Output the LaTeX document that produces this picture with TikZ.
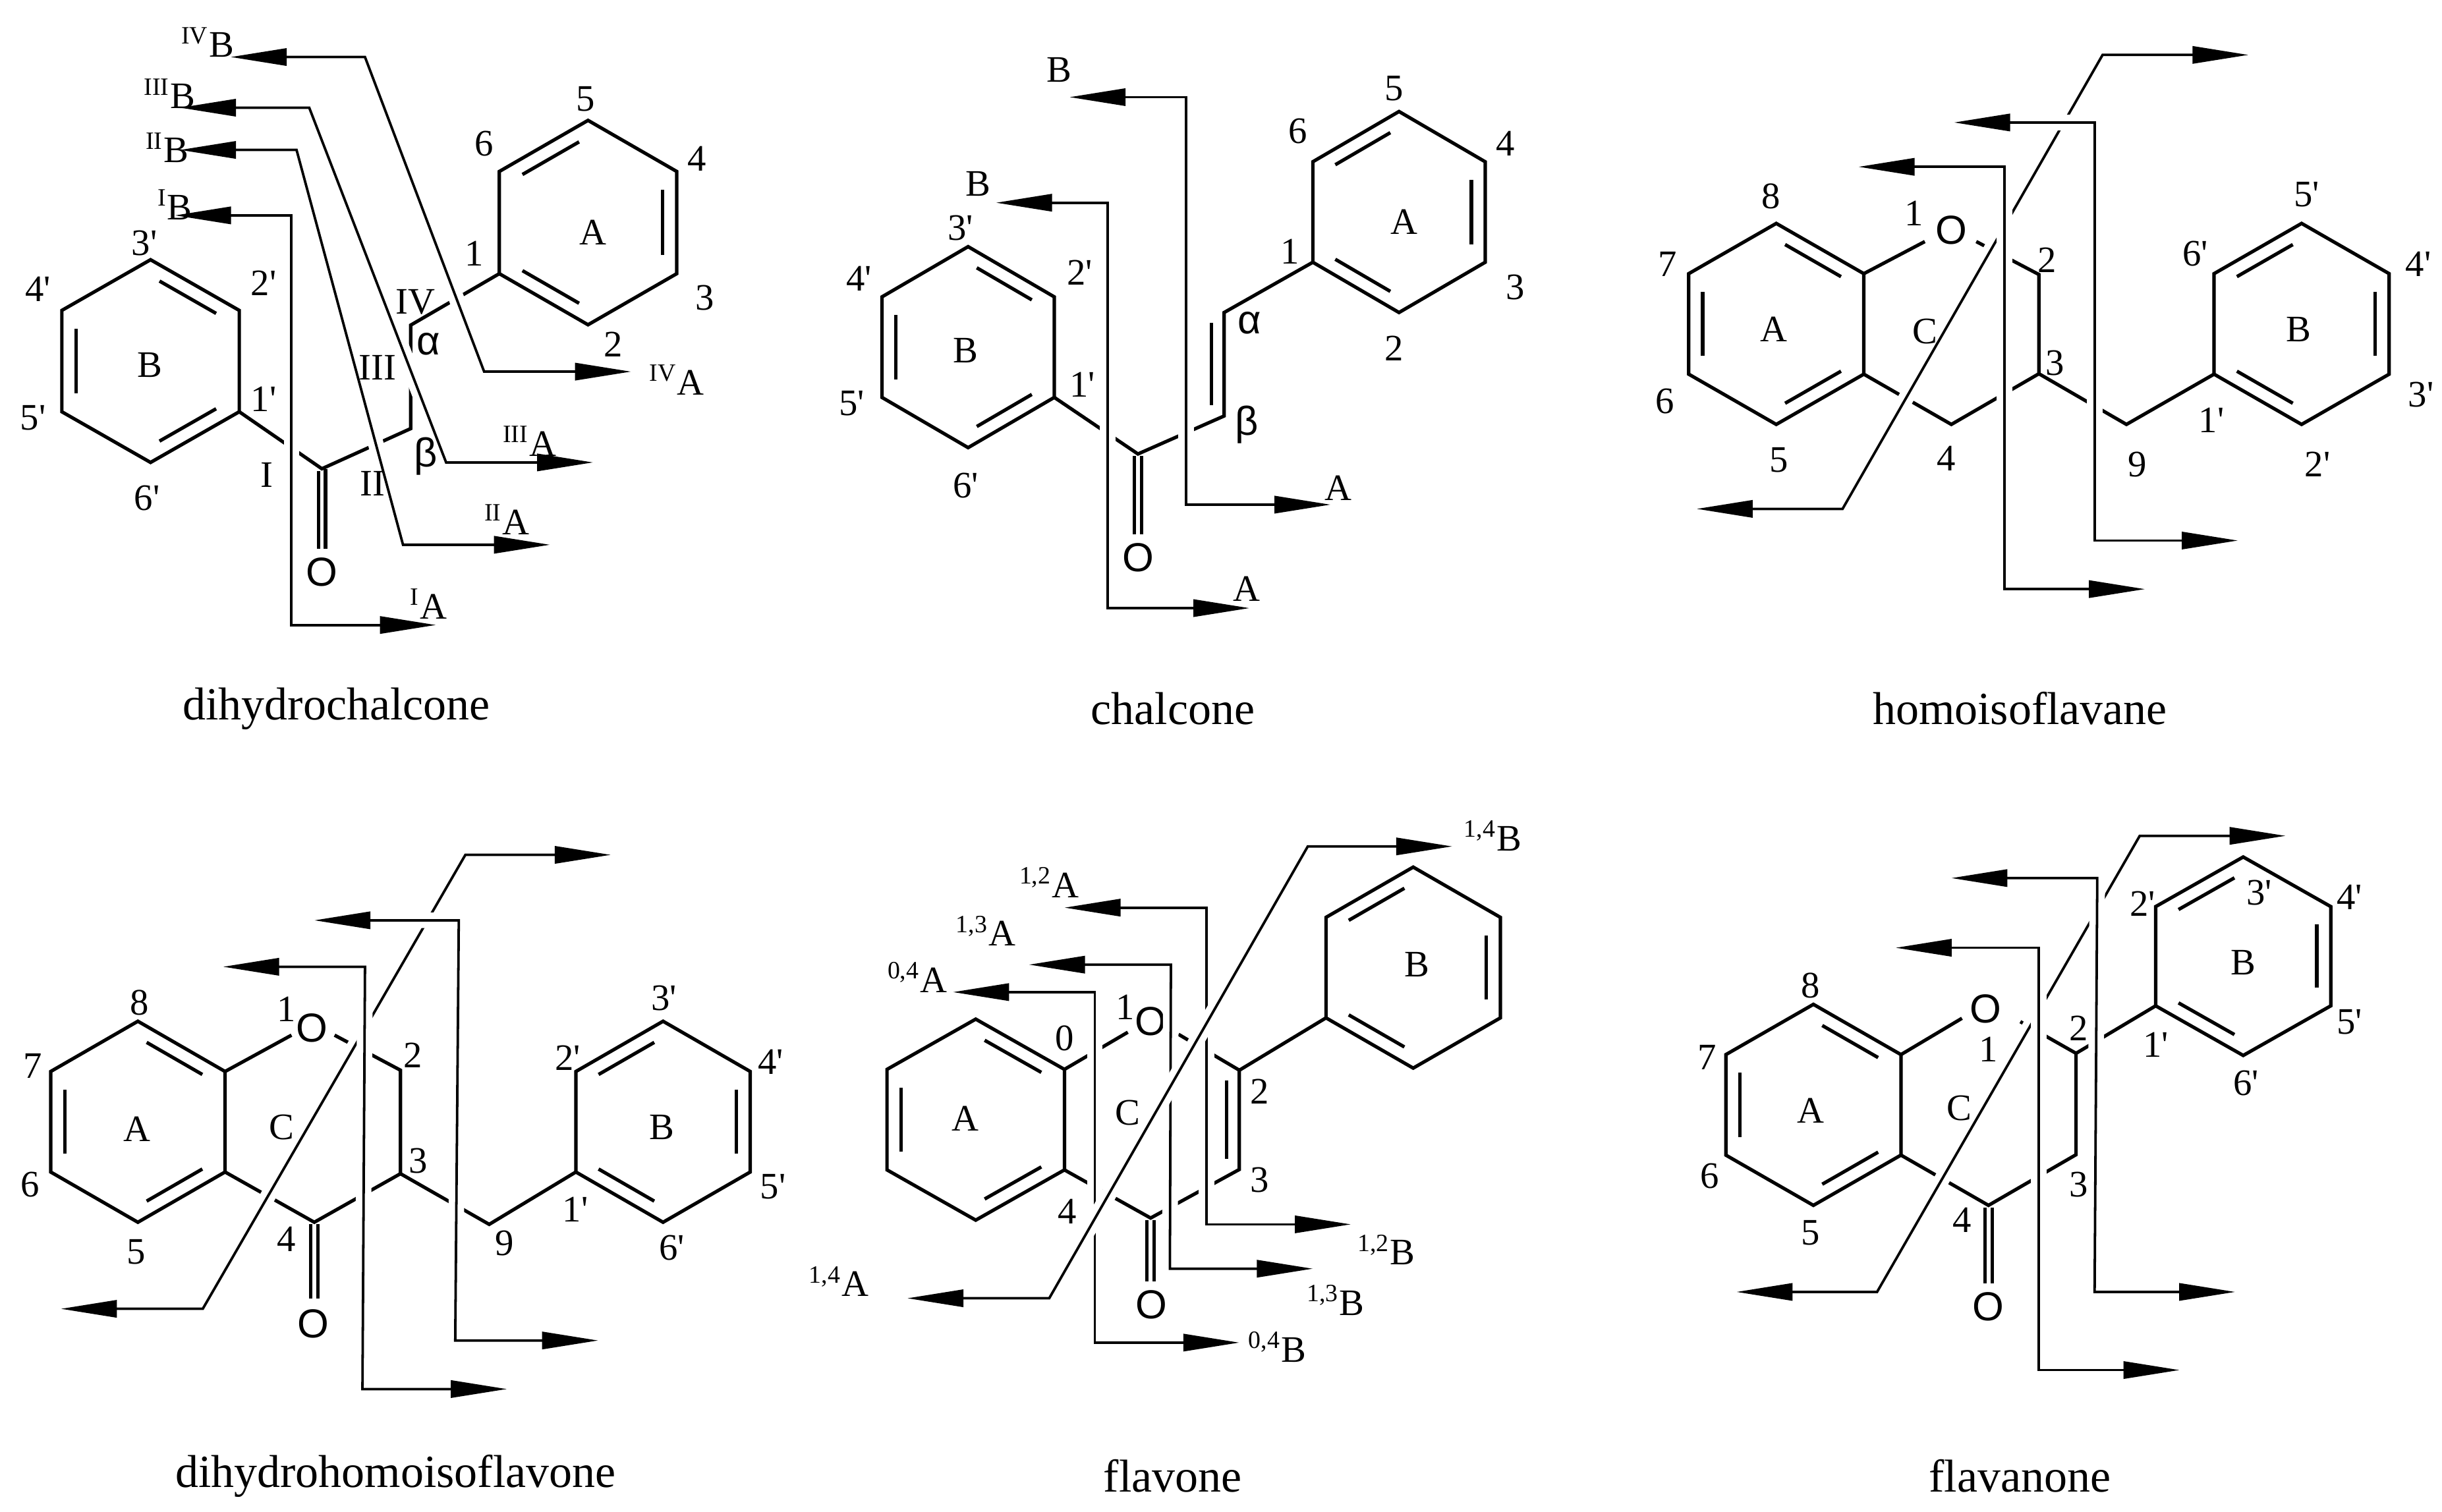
\documentclass[tikz,border=0pt]{standalone}
\usepackage{fontspec}
\setmainfont{Liberation Serif}
\newfontfamily\sansf{Liberation Sans}
\usetikzlibrary{arrows.meta,calc}
\newcommand\prm{\textquotesingle}
\tikzset{
 bond/.style={line width=1.1pt},
 frag/.style={line width=0.8pt,{Triangle[length=18pt,width=5.5pt]}-{Triangle[length=18pt,width=5.5pt]},
   preaction={draw=white,line width=5pt,-,shorten <=19pt,shorten >=19pt}},
 lab/.style={font=\fontsize{12}{12}\selectfont,inner sep=0pt},
 atom/.style={font=\sansf\fontsize{13}{13}\selectfont,inner sep=0pt},
 ttl/.style={font=\fontsize{14.8}{14.8}\selectfont,inner sep=0pt}
}
\newcommand\hex[5]{%
 \coordinate (#1c) at (#2,#3);
 \coordinate (#11) at (#2,{#3-#5});
 \coordinate (#12) at ({#2+#4},{#3-0.5*#5});
 \coordinate (#13) at ({#2+#4},{#3+0.5*#5});
 \coordinate (#14) at (#2,{#3+#5});
 \coordinate (#15) at ({#2-#4},{#3+0.5*#5});
 \coordinate (#16) at ({#2-#4},{#3-0.5*#5});
 \draw[bond] (#11)--(#12)--(#13)--(#14)--(#15)--(#16)--cycle;}
\newcommand\dbl[3]{\path ($(#1c)!0.84!(#1#2)$) coordinate (tmpa) ($(#1c)!0.84!(#1#3)$) coordinate (tmpb);
 \draw[bond] ($(tmpa)!0.12!(tmpb)$) -- ($(tmpb)!0.12!(tmpa)$);}
\begin{document}
\begin{tikzpicture}[x=0.5pt,y=-0.5pt]
\useasboundingbox (0,0) rectangle (1568,971);
\fill[white] (0,0) rectangle (1568,971);
% ---------- Panel 1: dihydrochalcone
\begin{scope}[shift={(0,0)},xscale=0.3255,yscale=0.2712]
\hex{pa}{297}{855}{175}{240}\dbl{pa}{1}{2}\dbl{pa}{3}{4}\dbl{pa}{5}{6}
\hex{pb}{1160}{527}{175}{242}\dbl{pb}{6}{1}\dbl{pb}{2}{3}\dbl{pb}{4}{5}
\draw[bond] (pa3)--(635,1110)--(810,1015)--(810,770)--(pb5);
\draw[bond] (628,1115)--(628,1300) (642,1110)--(642,1300);
\node[atom] (o1) at (635,1355) {O};
\draw[frag] (345,510)--(575,510)--(575,1480)--(860,1480);
\draw[frag] (355,355)--(585,355)--(795,1290)--(1085,1290);
\draw[frag] (355,255)--(610,255)--(880,1095)--(1170,1095);
\draw[frag] (455,135)--(720,135)--(955,880)--(1245,880);
\node[lab] at (345,485) {\textsuperscript{I}B};
\node[lab] at (330,350) {\textsuperscript{II}B};
\node[lab] at (335,222) {\textsuperscript{III}B};
\node[lab] at (410,100) {\textsuperscript{IV}B};
\node[lab] at (845,1430) {\textsuperscript{I}A};
\node[lab] at (1000,1230) {\textsuperscript{II}A};
\node[lab] at (1045,1045) {\textsuperscript{III}A};
\node[lab] at (1335,900) {\textsuperscript{IV}A};
\node[lab] at (527,1125) {I};
\node[lab] at (735,1145) {II};
\node[lab] at (745,870) {III};
\node[lab] at (820,715) {IV};
\node[atom] at (845,815) {α};
\node[atom] at (840,1080) {β};
\node[lab] at (285,575) {3\prm};\node[lab] at (520,670) {2\prm};\node[lab] at (75,685) {4\prm};
\node[lab] at (65,990) {5\prm};\node[lab] at (290,1180) {6\prm};\node[lab] at (520,945) {1\prm};
\node[lab] at (295,865) {B};
\node[lab] at (1155,235) {5};\node[lab] at (955,340) {6};\node[lab] at (1375,375) {4};
\node[lab] at (1390,705) {3};\node[lab] at (1210,815) {2};\node[lab] at (935,600) {1};
\node[lab] at (1170,550) {A};
\end{scope}
% ---------- Panel 2: chalcone
\begin{scope}[shift={(507.7,0)},xscale=0.3255,yscale=0.2712]
\hex{qa}{350}{822}{170}{238}\dbl{qa}{1}{2}\dbl{qa}{3}{4}\dbl{qa}{5}{6}
\hex{qb}{1200}{502}{170}{238}\dbl{qb}{6}{1}\dbl{qb}{2}{3}\dbl{qb}{4}{5}
\draw[bond] (qa3)--(685,1075)--(855,985)--(855,740)--(qb5);
\draw[bond] (830,765)--(830,960);
\draw[bond] (678,1080)--(678,1265) (692,1080)--(692,1265);
\node[atom] (o2) at (685,1320) {O};
\draw[frag] (550,230)--(780,230)--(780,1195)--(1065,1195);
\draw[frag] (405,480)--(625,480)--(625,1440)--(905,1440);
\node[lab] at (530,165) {B};\node[lab] at (1080,1155) {A};
\node[lab] at (370,435) {B};\node[lab] at (900,1395) {A};
\node[lab] at (335,540) {3\prm};\node[lab] at (570,645) {2\prm};\node[lab] at (135,660) {4\prm};
\node[lab] at (120,955) {5\prm};\node[lab] at (345,1150) {6\prm};\node[lab] at (575,910) {1\prm};
\node[lab] at (345,830) {B};
\node[lab] at (1190,210) {5};\node[lab] at (1000,310) {6};\node[lab] at (1410,340) {4};
\node[lab] at (1430,680) {3};\node[lab] at (1190,825) {2};\node[lab] at (985,595) {1};
\node[lab] at (1210,525) {A};
\node[atom] at (905,765) {α};\node[atom] at (900,1005) {β};
\end{scope}
% ---------- Panel 3: homoisoflavane
\begin{scope}[shift={(1036.6,0)},xscale=0.3407,yscale=0.2712]
\hex{ra}{305}{767}{165}{238}\dbl{ra}{1}{2}\dbl{ra}{3}{4}\dbl{ra}{5}{6}
\hex{rb}{1295}{767}{165}{238}\dbl{rb}{6}{1}\dbl{rb}{2}{3}\dbl{rb}{4}{5}
\node[atom] (o3) at (635,545) {O};
\draw[bond] (ra2)--(585,572);
\draw[bond] (682,572)--(800,650)--(800,885)--(635,1005)--(ra3);
\draw[bond] (800,885)--(965,1005)--(rb5);
\draw[frag] (155,1205)--(430,1205)--(920,130)--(1195,130);
\draw[frag] (460,395)--(735,395)--(735,1395)--(1000,1395);
\draw[frag] (640,290)--(905,290)--(905,1280)--(1175,1280);
\node[lab] at (295,465) {8};\node[lab] at (100,625) {7};\node[lab] at (95,950) {6};
\node[lab] at (310,1090) {5};\node[lab] at (565,505) {1};\node[lab] at (815,615) {2};
\node[lab] at (830,860) {3};\node[lab] at (625,1085) {4};\node[lab] at (985,1100) {9};
\node[lab] at (300,780) {A};\node[lab] at (585,785) {C};
\node[lab] at (1305,460) {5\prm};\node[lab] at (1095,600) {6\prm};\node[lab] at (1515,625) {4\prm};
\node[lab] at (1520,935) {3\prm};\node[lab] at (1325,1100) {2\prm};\node[lab] at (1125,995) {1\prm};
\node[lab] at (1290,780) {B};
\end{scope}
% ---------- Panel 4: dihydrohomoisoflavone
\begin{scope}[shift={(0,486.6)},xscale=0.3255,yscale=0.2712]
\hex{sa}{272}{862}{172}{238}\dbl{sa}{1}{2}\dbl{sa}{3}{4}\dbl{sa}{5}{6}
\hex{sb}{1308}{862}{172}{238}\dbl{sb}{6}{1}\dbl{sb}{2}{3}\dbl{sb}{4}{5}
\node[atom] (o4) at (615,640) {O};
\draw[bond] (sa2)--(575,657);
\draw[bond] (660,657)--(790,740)--(790,985)--(620,1100)--(sa3);
\draw[bond] (790,985)--(965,1105)--(sb5);
\draw[bond] (613,1105)--(613,1280) (627,1105)--(627,1280);
\node[atom] (o4b) at (618,1340) {O};
\draw[frag] (120,1305)--(400,1305)--(918,230)--(1205,230);
\draw[frag] (440,495)--(720,495)--(715,1495)--(1000,1495);
\draw[frag] (620,385)--(905,385)--(898,1380)--(1180,1380);
\node[lab] at (275,580) {8};\node[lab] at (65,730) {7};\node[lab] at (60,1010) {6};
\node[lab] at (268,1170) {5};\node[lab] at (565,595) {1};\node[lab] at (815,705) {2};
\node[lab] at (825,955) {3};\node[lab] at (565,1140) {4};\node[lab] at (995,1150) {9};
\node[lab] at (270,880) {A};\node[lab] at (555,875) {C};
\node[lab] at (1310,570) {3\prm};\node[lab] at (1120,710) {2\prm};\node[lab] at (1520,720) {4\prm};
\node[lab] at (1525,1015) {5\prm};\node[lab] at (1325,1160) {6\prm};\node[lab] at (1135,1070) {1\prm};
\node[lab] at (1305,875) {B};
\end{scope}
% ---------- Panel 5: flavone
\begin{scope}[shift={(507.7,486.6)},xscale=0.3255,yscale=0.2712]
\hex{ta}{365}{857}{175}{238}\dbl{ta}{1}{2}\dbl{ta}{3}{4}\dbl{ta}{5}{6}
\hex{tb}{1228}{497}{172}{238}\dbl{tb}{6}{1}\dbl{tb}{2}{3}\dbl{tb}{4}{5}
\node[atom] (o5) at (710,625) {O};
\draw[bond] (ta2)--(665,650);
\draw[bond] (765,655)--(885,740)--(885,975)--(710,1090)--(ta3);
\draw[bond] (885,740)--(tb5);
\draw[bond] (860,765)--(860,950);
\draw[bond] (703,1095)--(703,1240) (717,1095)--(717,1240);
\node[atom] (o5b) at (712,1295) {O};
\draw[frag] (320,555)--(600,555)--(600,1385)--(885,1385);
\draw[frag] (470,490)--(750,490)--(748,1210)--(1030,1210);
\draw[frag] (540,355)--(820,355)--(820,1105)--(1105,1105);
\draw[frag] (230,1280)--(510,1280)--(1020,210)--(1305,210);
\node[lab] at (1385,185) {\textsuperscript{1,4}B};
\node[lab] at (510,295) {\textsuperscript{1,2}A};
\node[lab] at (385,410) {\textsuperscript{1,3}A};
\node[lab] at (250,520) {\textsuperscript{0,4}A};
\node[lab] at (95,1240) {\textsuperscript{1,4}A};
\node[lab] at (1175,1165) {\textsuperscript{1,2}B};
\node[lab] at (1075,1285) {\textsuperscript{1,3}B};
\node[lab] at (960,1395) {\textsuperscript{0,4}B};
\node[lab] at (540,665) {0};\node[lab] at (660,590) {1};\node[lab] at (665,840) {C};
\node[lab] at (345,855) {A};\node[lab] at (925,790) {2};\node[lab] at (925,1000) {3};
\node[lab] at (545,1075) {4};\node[lab] at (1235,490) {B};
\end{scope}
% ---------- Panel 6: flavanone
\begin{scope}[shift={(1036.6,486.6)},xscale=0.3407,yscale=0.2712]
\hex{ua}{375}{822}{165}{238}\dbl{ua}{1}{2}\dbl{ua}{3}{4}\dbl{ua}{5}{6}
\hex{ub}{1185}{470}{165}{235}\dbl{ub}{6}{1}\dbl{ub}{2}{3}\dbl{ub}{4}{5}
\node[atom] (o6) at (700,595) {O};
\draw[bond] (ua2)--(655,617);
\draw[bond] (765,625)--(870,700)--(870,940)--(705,1060)--(ua3);
\draw[bond] (870,700)--(ub5);
\draw[bond] (698,1065)--(698,1245) (712,1065)--(712,1245);
\node[atom] (o6b) at (705,1300) {O};
\draw[frag] (230,1265)--(495,1265)--(990,185)--(1265,185);
\draw[frag] (530,450)--(800,450)--(800,1450)--(1065,1450);
\draw[frag] (635,285)--(910,285)--(905,1265)--(1170,1265);
\node[lab] at (370,540) {8};\node[lab] at (175,710) {7};\node[lab] at (180,990) {6};
\node[lab] at (370,1125) {5};\node[lab] at (705,690) {1};\node[lab] at (875,640) {2};
\node[lab] at (875,1010) {3};\node[lab] at (655,1095) {4};
\node[lab] at (370,835) {A};\node[lab] at (650,830) {C};
\node[lab] at (995,345) {2\prm};\node[lab] at (1215,320) {3\prm};\node[lab] at (1385,330) {4\prm};
\node[lab] at (1385,625) {5\prm};\node[lab] at (1190,770) {6\prm};\node[lab] at (1020,680) {1\prm};
\node[lab] at (1185,485) {B};
\end{scope}
% ---------- titles
\node[ttl] (t1) at (216,455) {dihydrochalcone};
\node[ttl] (t2) at (753,455) {chalcone};
\node[ttl] (t3) at (1297,455) {homoisoflavane};
\node[ttl] (t4) at (254,948) {dihydrohomoisoflavone};
\node[ttl] (t5) at (753,948) {flavone};
\node[ttl] (t6) at (1297,948) {flavanone};
\end{tikzpicture}
\end{document}
